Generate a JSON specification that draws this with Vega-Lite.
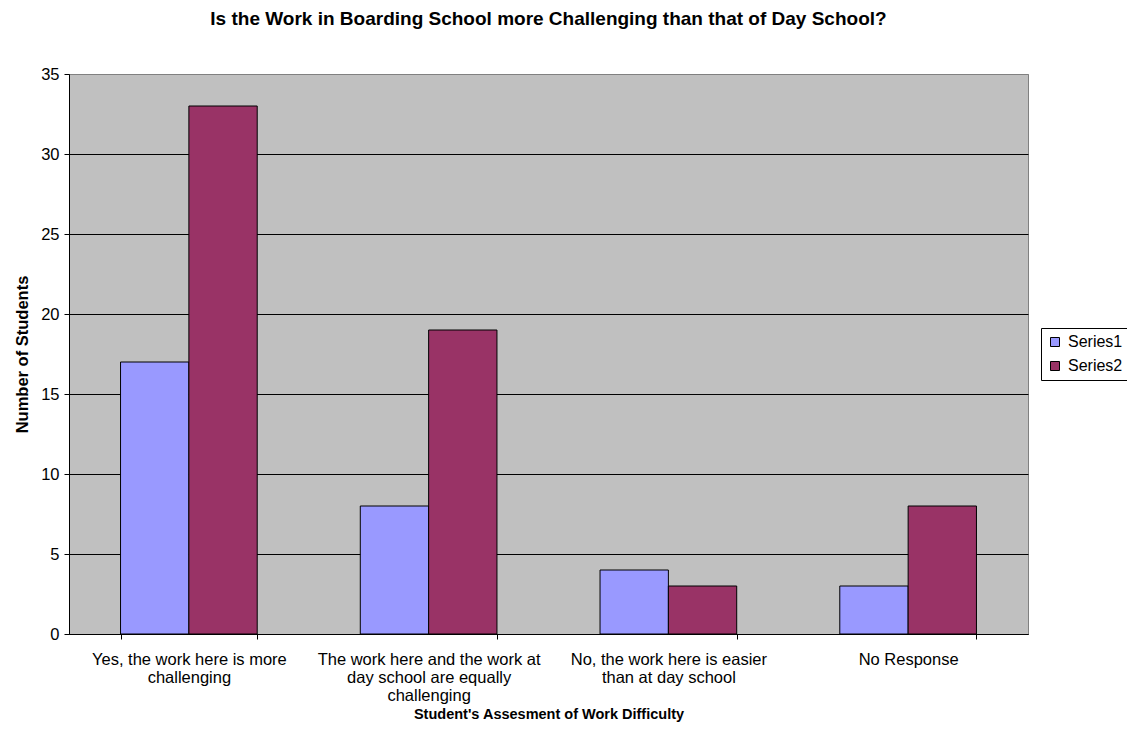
{
  "$schema": "https://vega.github.io/schema/vega-lite/v6.json",
  "width": 959,
  "height": 560,
  "autosize": {"type": "none"},
  "padding": {"left": 69, "top": 74, "right": 99, "bottom": 108},
  "background": "white",
  "config": {
    "view": {"fill": "#C0C0C0", "stroke": "#808080", "strokeWidth": 1},
    "font": "Liberation Sans"
  },
  "title": {
    "text": "Is the Work in Boarding School more Challenging than that of Day School?",
    "fontSize": 19,
    "fontWeight": "bold",
    "font": "Liberation Sans",
    "color": "black",
    "anchor": "middle",
    "baseline": "alphabetic",
    "offset": 22
  },
  "data": {
    "values": [
      {"category": "Yes, the work here is more challenging", "series": "Series1", "students": 17},
      {"category": "Yes, the work here is more challenging", "series": "Series2", "students": 33},
      {"category": "The work here and the work at day school are equally challenging", "series": "Series1", "students": 8},
      {"category": "The work here and the work at day school are equally challenging", "series": "Series2", "students": 19},
      {"category": "No, the work here is easier than at day school", "series": "Series1", "students": 4},
      {"category": "No, the work here is easier than at day school", "series": "Series2", "students": 3},
      {"category": "No Response", "series": "Series1", "students": 3},
      {"category": "No Response", "series": "Series2", "students": 8}
    ]
  },
  "mark": {"type": "bar", "stroke": "black", "strokeWidth": 1},
  "encoding": {
    "x": {
      "field": "category",
      "type": "nominal",
      "sort": null,
      "scale": {"paddingInner": 0.43, "paddingOuter": 0.215},
      "axis": {
        "title": "Student's Assesment of Work Difficulty",
        "titleFontSize": 14.5,
        "titleFontWeight": "bold",
        "titleColor": "black",
        "titleY": 80,
        "titleBaseline": "middle",
        "labelAngle": 0,
        "labelFontSize": 16.5,
        "labelColor": "black",
        "labelPadding": 12,
        "labelLineHeight": 18,
        "labelLimit": 300,
        "labelExpr": "datum.value == 'Yes, the work here is more challenging' ? ['Yes, the work here is more', 'challenging'] : datum.value == 'The work here and the work at day school are equally challenging' ? ['The work here and the work at', 'day school are equally', 'challenging'] : datum.value == 'No, the work here is easier than at day school' ? ['No, the work here is easier', 'than at day school'] : datum.value",
        "ticks": true,
        "tickBand": "extent",
        "tickColor": "black",
        "tickSize": 5,
        "tickWidth": 1,
        "domainColor": "black"
      }
    },
    "xOffset": {"field": "series", "type": "nominal", "scale": {"paddingInner": 0, "paddingOuter": 0}},
    "y": {
      "field": "students",
      "type": "quantitative",
      "scale": {"domain": [0, 35], "nice": false},
      "axis": {
        "title": "Number of Students",
        "titleFontSize": 16.5,
        "titleFontWeight": "bold",
        "titleColor": "black",
        "titlePadding": 10,
        "values": [0, 5, 10, 15, 20, 25, 30, 35],
        "labelFontSize": 16.5,
        "labelColor": "black",
        "labelPadding": 5,
        "tickColor": "black",
        "tickSize": 5,
        "domainColor": "black",
        "grid": true,
        "gridColor": {"condition": {"test": "datum.value === 35", "value": "#808080"}, "value": "black"},
        "gridOpacity": 1,
        "gridWidth": 1
      }
    },
    "color": {
      "field": "series",
      "type": "nominal",
      "scale": {"domain": ["Series1", "Series2"], "range": ["#9999FF", "#993366"]},
      "legend": {
        "title": null,
        "orient": "none",
        "legendX": 972,
        "legendY": 254,
        "symbolType": "square",
        "symbolSize": 81,
        "symbolStrokeColor": "black",
        "symbolStrokeWidth": 1,
        "symbolOpacity": 1,
        "labelFontSize": 16,
        "labelColor": "black",
        "labelOffset": 5,
        "rowPadding": 8,
        "strokeColor": "black",
        "padding": 6,
        "fillColor": "white"
      }
    }
  }
}
